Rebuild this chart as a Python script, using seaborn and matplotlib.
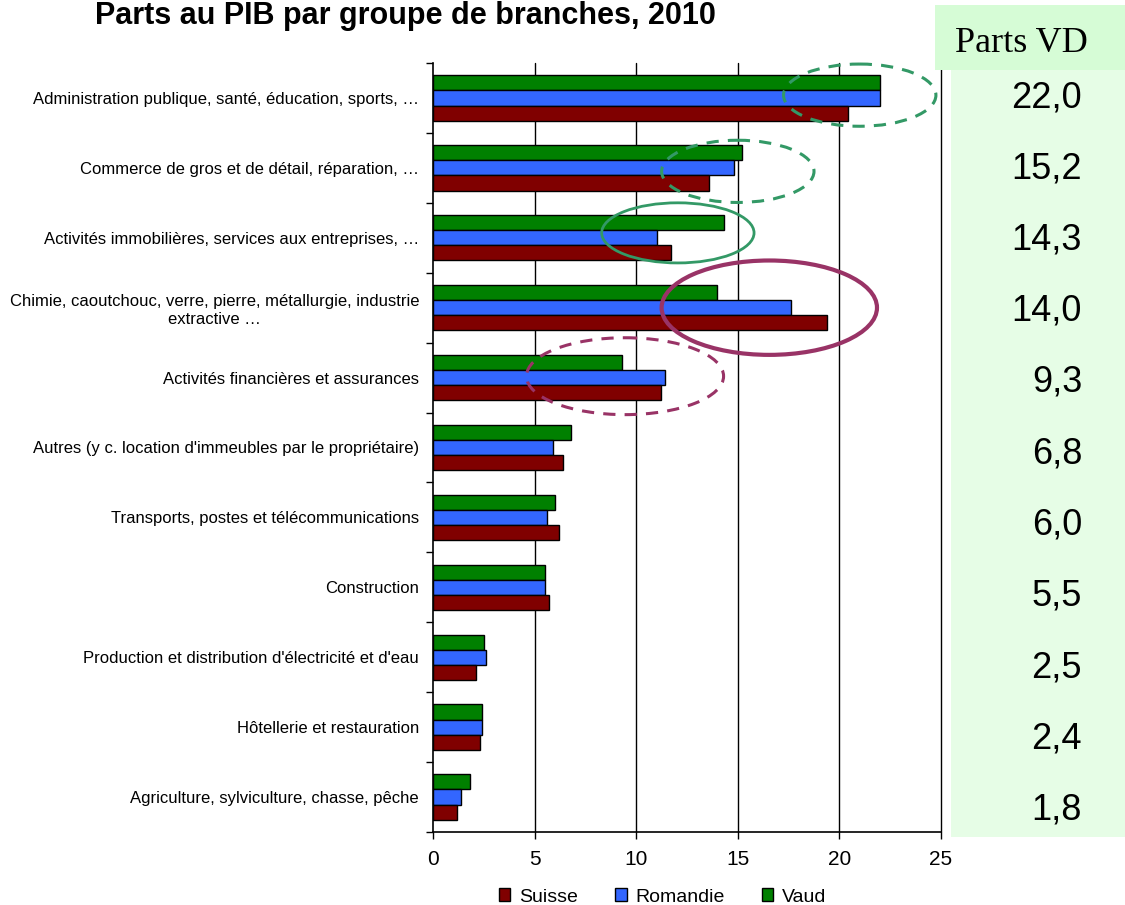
import pandas as pd
import seaborn as sns
import matplotlib.pyplot as plt
from matplotlib.patches import Ellipse, Rectangle, Patch

# Branches, from top to bottom
branches = [
    "Administration publique, santé, éducation, sports, …",
    "Commerce de gros et de détail, réparation, …",
    "Activités immobilières, services aux entreprises, …",
    "Chimie, caoutchouc, verre, pierre, métallurgie, industrie\nextractive …",
    "Activités financières et assurances",
    "Autres (y c. location d'immeubles par le propriétaire)",
    "Transports, postes et télécommunications",
    "Construction",
    "Production et distribution d'électricité et d'eau",
    "Hôtellerie et restauration",
    "Agriculture, sylviculture, chasse, pêche",
]

# Parts au PIB (%)
suisse = [20.4, 13.6, 11.7, 19.4, 11.2, 6.4, 6.2, 5.7, 2.1, 2.3, 1.2]
romandie = [22.0, 14.8, 11.0, 17.6, 11.4, 5.9, 5.6, 5.5, 2.6, 2.4, 1.4]
vaud = [22.0, 15.2, 14.3, 14.0, 9.3, 6.8, 6.0, 5.5, 2.5, 2.4, 1.8]

regions = ["Suisse", "Romandie", "Vaud"]
colors = {"Suisse": "#800000", "Romandie": "#3366FF", "Vaud": "#008000"}

# highlight ellipses: (x centre, category centre, width, height, colour, style, lw)
highlights = [
    (21.0, -0.04, 7.5, 0.89, "#339966", "dashed", 2.2),
    (15.0, 1.05, 7.5, 0.89, "#339966", "dashed", 2.2),
    (12.05, 1.93, 7.5, 0.86, "#339966", "solid", 2.0),
    (16.55, 3.0, 10.6, 1.35, "#993366", "solid", 3.0),
    (9.45, 3.98, 9.7, 1.1, "#993366", "dashed", 2.2),
]


def build_frame():
    rows = []
    for name, vals in zip(regions, [suisse, romandie, vaud]):
        for b, v in zip(branches, vals):
            rows.append({"branche": b, "region": name, "part": v})
    return pd.DataFrame(rows)


def main():
    df = build_frame()

    sns.set_style("white")
    plt.rcParams["font.family"] = ["Liberation Sans", "DejaVu Sans"]
    plt.rcParams["text.color"] = "black"
    plt.rcParams["xtick.labelcolor"] = "black"
    plt.rcParams["ytick.labelcolor"] = "black"

    fig = plt.figure(figsize=(11.25, 9.05), dpi=100)

    # green side panel with Vaud shares
    fig.patches.append(Rectangle((951 / 1125, 1 - 837 / 905), 174 / 1125, (837 - 70) / 905,
                                 transform=fig.transFigure, facecolor="#e6fde6",
                                 edgecolor="none", zorder=0))
    fig.patches.append(Rectangle((935 / 1125, 1 - 70 / 905), 190 / 1125, 65 / 905,
                                 transform=fig.transFigure, facecolor="#d6fcd6",
                                 edgecolor="none", zorder=0))

    ax = fig.add_axes([433 / 1125, 1 - 832 / 905, 508 / 1125, 769 / 905])
    ax.set_facecolor("none")

    sns.barplot(data=df, y="branche", x="part", hue="region",
                hue_order=["Vaud", "Romandie", "Suisse"], palette=colors,
                orient="h", width=0.65, edgecolor="black", linewidth=1.0,
                saturation=1, legend=False, ax=ax, zorder=3)

    ax.set_xlim(0, 25)
    ax.set_ylim(len(branches) - 0.5, -0.5)
    ax.set_xticks(range(0, 26, 5))
    ax.set_xlabel("")
    ax.set_ylabel("")

    ax.set_yticks(range(len(branches)))
    ax.set_yticklabels(branches, fontsize=12, multialignment="center")
    ax.set_yticks([i - 0.5 for i in range(len(branches) + 1)], minor=True)
    ax.tick_params(axis="y", which="major", length=0, pad=10)
    ax.tick_params(axis="y", which="minor", length=5, width=1, color="black", direction="out", left=True)
    ax.tick_params(axis="x", length=5, width=1, color="black", direction="out", bottom=True,
                   labelsize=15, pad=8)

    # vertical gridlines
    for x in range(5, 26, 5):
        ax.axvline(x, color="black", lw=1.0, zorder=1, clip_on=False)

    for side in ["top", "right"]:
        ax.spines[side].set_visible(False)
    for side in ["left", "bottom"]:
        ax.spines[side].set_color("black")
        ax.spines[side].set_linewidth(1.2)

    for (cx, cy, w, h, col, ls, lw) in highlights:
        style = (0, (4, 3)) if ls == "dashed" else "solid"
        ax.add_patch(Ellipse((cx, cy), w, h, fill=False, edgecolor=col, lw=lw,
                             linestyle=style, zorder=5, clip_on=False))

    # Vaud shares on the right
    fig.text(955 / 1125, 1 - 52 / 905, "Parts VD", family="Liberation Serif", fontsize=26,
             ha="left", va="baseline")
    for i, v in enumerate(vaud):
        y = 97.5 + 71.25 * i
        fig.text(1082 / 1125, 1 - y / 905, f"{v:.1f}".replace(".", ","), fontsize=26,
                 ha="right", va="center")

    fig.text(95 / 1125, 1 - 24 / 905, "Parts au PIB par groupe de branches, 2010",
             fontweight="bold", fontsize=22, ha="left", va="baseline")

    handles = [Patch(facecolor=colors[r], edgecolor="black", lw=1.0) for r in regions]
    fig.legend(handles, regions, loc="center", bbox_to_anchor=(0.589, 1 - 897 / 905),
               ncol=3, frameon=False, fontsize=14, handlelength=0.6, handleheight=0.6,
               handletextpad=0.45, columnspacing=1.9)

    fig.savefig("out.png", dpi=100)


if __name__ == "__main__":
    main()
